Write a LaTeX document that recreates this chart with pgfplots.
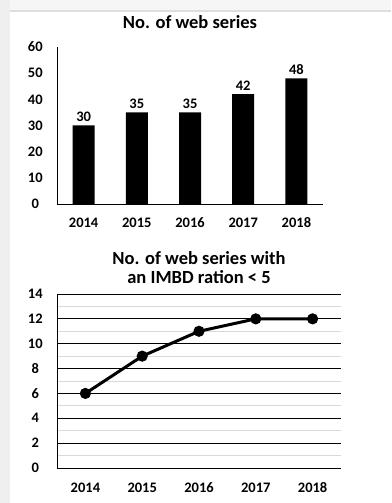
\documentclass[border=0pt]{standalone}
\usepackage{pgfplots}
\pgfplotsset{compat=1.18}
\usepackage{fontspec}
\setmainfont{Carlito}
\definecolor{stripgray}{HTML}{EFEFEF}
\definecolor{topgray}{HTML}{F6F6F6}
\definecolor{linegray}{HTML}{DEDEDE}
\definecolor{minorgray}{HTML}{D9D9D9}
\begin{document}
\begin{tikzpicture}
\path[use as bounding box] (0pt,0pt) rectangle (391pt,503pt);
\fill[white] (0pt,0pt) rectangle (391pt,503pt);
\fill[stripgray] (0pt,0pt) rectangle (10pt,503pt);
\fill[topgray] (10pt,493pt) rectangle (391pt,503pt);
\fill[linegray] (10pt,490.5pt) rectangle (391pt,492.5pt);
\pgfplotsset{
  common/.style={
    scale only axis,
    anchor=south west,
    xmin=-0.5, xmax=4.5,
    xtick={0,1,2,3,4},
    xticklabels={2014,2015,2016,2017,2018},
    major tick length=0pt,
    minor tick length=0pt,
    axis lines*=left,
    axis line style={black, line width=0.8pt},
    /pgf/number format/assume math mode=true,
    tick label style={font=\fontsize{14.5}{16}\selectfont\bfseries, inner sep=0pt},
    yticklabel style={text width=16pt, align=center, anchor=east, xshift=-13.5pt},
    title style={font=\fontsize{18.5}{19}\selectfont\bfseries, align=center, at={(0.5,1)}, anchor=center},
    clip=false,
  }
}
\begin{axis}[common,
  at={(57pt,299pt)}, width=266pt, height=157pt,
  ymin=0, ymax=60, ytick={0,10,...,60},
  xticklabel style={anchor=base, yshift=-23.5pt},
  title={No. of web series},
  title style={yshift=19pt},
  ybar, bar width=22pt,
  nodes near coords,
  nodes near coords style={font=\fontsize{14.5}{16}\selectfont\bfseries, anchor=base, inner sep=0pt, yshift=4pt},
]
\addplot[fill=black, draw=none] coordinates {(0,30) (1,35) (2,35) (3,42) (4,48)};
\end{axis}
\begin{axis}[common,
  at={(57pt,35pt)}, width=284pt, height=174pt,
  ymin=0, ymax=14, ytick={0,2,...,14},
  minor y tick num=1,
  ymajorgrids, yminorgrids,
  major grid style={black, line width=0.8pt},
  minor grid style={minorgray, line width=0.8pt},
  xticklabel style={anchor=base, yshift=-24.5pt},
  title={No. of web series with\\an IMBD ration < 5},
  title style={yshift=20pt},
]
\addplot[black, line width=3pt, mark=*, mark size=4pt] coordinates {(0,6) (1,9) (2,11) (3,12) (4,12)};
\end{axis}
\end{tikzpicture}
\end{document}
